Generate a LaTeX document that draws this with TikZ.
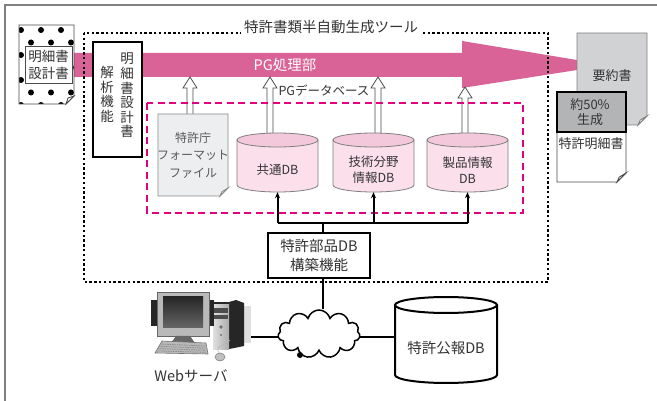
\documentclass[tikz,border=0pt]{standalone}
\usepackage{fontspec}
\setmainfont{Noto Sans CJK JP}
\usetikzlibrary{shapes.symbols,arrows.meta,calc}

\definecolor{txt}{HTML}{333333}
\definecolor{pgpink}{HTML}{D96297}
\definecolor{dbline}{HTML}{E5007F}
\definecolor{cylbody}{HTML}{FBE0EC}
\definecolor{cyltop}{HTML}{F2C8DA}
\definecolor{cylrim}{HTML}{7F7F7F}
\definecolor{docgray}{HTML}{EDEEF0}
\definecolor{sumgray}{HTML}{D1D2D4}
\definecolor{gengray}{HTML}{B3B4B6}
\definecolor{framegray}{HTML}{808080}

% document sheet with a folded lower right corner
\newcommand\docsheet[7]{% x1 y1 x2 y2 fold fill draw
  \draw[fill=#6, draw=#7, line width=0.8pt]
    (#1,#2) -- (#3,#2) -- (#3,#4-#5) -- (#3-#5,#4) -- (#1,#4) -- cycle;
  \draw[fill=white, draw=#7, line width=0.8pt]
    (#3,#4-#5) -- (#3-#5,#4) -- (#3-0.75*#5,#4-0.55*#5) -- cycle;
}

% hollow upward block arrow
\newcommand\hollowup[3]{% x, base y, tip y
  \draw[fill=white, draw=black!70, line width=0.8pt]
    (#1-3,#2) -- (#1-3,#3+11) -- (#1-7,#3+11) -- (#1,#3) --
    (#1+7,#3+11) -- (#1+3,#3+11) -- (#1+3,#2) -- cycle;
}

% database cylinder
\newcommand\dbcyl[9]{% cx top bottom rx ry bodyfill topfill rim width
  \path[fill=#6] (#1-#4,#2+#5) -- (#1-#4,#3-#5)
    arc[start angle=180,end angle=0,x radius=#4,y radius=#5]
    -- (#1+#4,#2+#5)
    arc[start angle=0,end angle=-180,x radius=#4,y radius=#5] -- cycle;
  \draw[draw=#8, line width=#9] (#1-#4,#2+#5) -- (#1-#4,#3-#5)
    arc[start angle=180,end angle=0,x radius=#4,y radius=#5]
    -- (#1+#4,#2+#5);
  \draw[draw=#8, line width=#9, fill=#7] (#1,#2+#5) ellipse[x radius=#4, y radius=#5];
}

\tikzset{
  lbl/.style={inner sep=0pt, text=txt, align=center},
  wire/.style={line width=2pt, draw=black},
  boxed/.style={draw=black, line width=2pt, fill=white, inner sep=0pt, align=center, text=txt},
}

\begin{document}
\begin{tikzpicture}[x=1pt,y=-1pt]
\useasboundingbox (0,0) rectangle (657,401);
\fill[white] (0,0) rectangle (657,401);

% page frame
\draw[framegray, line width=1.6pt] (5,401) -- (5,5) -- (657,5);

% PG processing arrow
\fill[pgpink] (74,53) -- (462,53) -- (462,41) -- (577,60) -- (577,70)
  -- (462,88) -- (462,77) -- (74,77) -- cycle;
\node[lbl, text=white, font=\fontsize{14.5}{16}\selectfont] (pg) at (285,65) {PG処理部};

% hollow arrows feeding the processing unit
\hollowup{190}{120}{77}
\hollowup{270}{140}{77}
\hollowup{378}{140}{77}
\hollowup{465}{140}{87}

% input specification sheet
\begin{scope}
  \clip (19,25) -- (74,25) -- (74,96) -- (66,104) -- (19,104) -- cycle;
  \fill[white] (19,25) rectangle (74,104);
  \foreach \r in {0,...,6}{
    \pgfmathsetmacro\off{mod(\r,2)*10}
    \foreach \c in {0,...,3}{
      \fill ({21+\c*20+\off},{30+\r*12.5}) circle (3);
    }
  }
\end{scope}
\draw[black!70, line width=0.8pt] (19,25) -- (74,25) -- (74,96) -- (66,104) -- (19,104) -- cycle;
\draw[fill=white, draw=black!70, line width=0.8pt] (74,96) -- (66,104) -- (68,98) -- cycle;
\node[draw=black!70, fill=white, line width=0.8pt, minimum width=47pt, minimum height=37pt,
  lbl, font=\fontsize{13.5}{17}\selectfont] (spec) at (48.5,65) {明細書\\設計書};

% tool frame
\draw[line width=2.4pt, dash pattern=on 2.4pt off 2.4pt] (84,33) rectangle (548,282);
\node[lbl, fill=white, inner sep=3pt, font=\fontsize{14.5}{16}\selectfont] (tool) at (331,27) {特許書類半自動生成ツール};

% analysis function (vertical text)
\node[boxed, minimum width=49pt, minimum height=115pt] (parse) at (117.5,99.5) {};
\node[lbl, anchor=north, font=\fontsize{13.5}{14.6}\selectfont] at (127,53) {明\\細\\書\\設\\計\\書};
\node[lbl, anchor=north, font=\fontsize{13.5}{14.6}\selectfont] at (107,66) {解\\析\\機\\能};

% PG database area
\draw[dbline, line width=2pt, dash pattern=on 7pt off 4.5pt] (147,103) rectangle (523,213);
\node[lbl, font=\fontsize{12.5}{14}\selectfont] (pgdb) at (324,91) {PGデータベース};

% patent office format file
\docsheet{158}{114}{228}{196}{8}{docgray}{black!45}
\node[lbl, text=black!65, font=\fontsize{12}{17.5}\selectfont] (fmt) at (193,155) {特許庁\\フォーマット\\ファイル};

% component databases
\dbcyl{277.5}{133}{192}{40.5}{7}{cylbody}{cyltop}{cylrim}{0.8pt}
\dbcyl{373.5}{133}{192}{40.5}{7}{cylbody}{cyltop}{cylrim}{0.8pt}
\dbcyl{467.5}{133}{192}{40.5}{7}{cylbody}{cyltop}{cylrim}{0.8pt}
\node[minimum width=81pt, minimum height=59pt, inner sep=0pt] (c1) at (277.5,162.5) {};
\node[minimum width=81pt, minimum height=59pt, inner sep=0pt] (c2) at (373.5,162.5) {};
\node[minimum width=81pt, minimum height=59pt, inner sep=0pt] (c3) at (467.5,162.5) {};
\node[lbl, font=\fontsize{12.5}{16}\selectfont] at (277.5,170) {共通DB};
\node[lbl, font=\fontsize{12.5}{16}\selectfont] at (373.5,170) {技術分野\\情報DB};
\node[lbl, font=\fontsize{12.5}{16}\selectfont] at (467.5,170) {製品情報\\DB};

% component DB builder and its distribution bus
\node[boxed, minimum width=102pt, minimum height=45pt, font=\fontsize{14.5}{19.5}\selectfont] (pgb) at (319,255.5) {特許部品DB\\構築機能};
\coordinate (bus) at (323,223);
\draw[wire] (bus) -- (bus |- pgb.north);
\draw[wire] (bus -| c1.south) -- (bus -| c3.south);
\foreach \c in {c1,c2,c3}{
  \draw[wire, -{Stealth[length=6pt, width=5pt]}] (bus -| \c.south) -- (\c.south);
}

% network
\node[cloud, cloud puffs=11, aspect=1.7, draw=black, line width=1.5pt, fill=white,
  minimum width=82pt, minimum height=48pt, inner sep=0pt] (net) at (319,334) {};
\fill (300,355) circle (3);
\coordinate (pc) at (243,337);
\draw[wire] (pgb.south -| bus) -- (net.north -| bus);
\draw[wire] (pc) -- (pc -| net.west);

% patent gazette database
\dbcyl{446}{297}{383}{51}{8}{white}{white}{black}{2pt}
\node[minimum width=102pt, minimum height=86pt, inner sep=0pt] (gaz) at (446,340) {};
\node[lbl, font=\fontsize{14.5}{16}\selectfont] at (446,348) {特許公報DB};
\draw[wire] (pc -| net.east) -- (pc -| gaz.west);

% web server workstation
\fill[gray!25] (243,306) rectangle (251,343);
\fill[black!85] (229,302) -- (236,300) -- (244,303) -- (244,346) -- (229,349) -- cycle;
\shade[left color=gray!25, right color=gray!65] (213,304) rectangle (229,349);
\fill[black!85] (213,302) -- (229,302) -- (229,304) -- (213,304) -- cycle;
\fill[black!70] (214,308) rectangle (228,313);
\fill[black!70] (214,315) rectangle (228,319);
\fill[black!55] (221,327) circle (1.8);
\fill[black!55] (221,335) circle (1.2);
\fill[black!85] (151,300) rectangle (160,326);
\fill[black!85] (206,300) rectangle (214,326);
\fill[gray!55] (157,292) rectangle (209,336);
\draw[black!60, line width=0.6pt] (157,292) rectangle (209,336);
\shade[top color=black!85, bottom color=black!60] (163,297) rectangle (203,328);
\fill[black!60] (176,336) -- (190,336) -- (195,343) -- (171,343) -- cycle;
\draw[gray!60, line width=0.5pt] (219,353) .. controls (214,345) and (226,346) .. (230,340);
\fill[gray!55] (162,341) -- (206,343) -- (208,354) -- (155,353) -- cycle;
\draw[black!55, line width=0.6pt] (162,341) -- (206,343) -- (208,354) -- (155,353) -- cycle;
\foreach \k in {0,...,3}{
  \draw[black!45, line width=0.8pt, dash pattern=on 1.6pt off 0.8pt]
    ({160-\k*1.3},{344+\k*2.3}) -- ({205+\k*0.4},{346+\k*2.1});
}
\fill[gray!50] (220,357) ellipse (5 and 4);
\draw[black!50, line width=0.5pt] (220,357) ellipse (5 and 4);
\node[lbl, font=\fontsize{14.5}{16}\selectfont] (web) at (191,376) {Webサーバ};

% outputs: summary and specification
\docsheet{577}{33}{647}{125}{9}{sumgray}{black!50}
\node[lbl, font=\fontsize{13}{15}\selectfont] (summary) at (612,76) {要約書};
\docsheet{557}{92}{626}{182}{9}{white}{black!70}
\draw[fill=gengray, draw=black, line width=1.6pt] (557,92) rectangle (626,132);
\node[lbl, font=\fontsize{13}{15}\selectfont] (gen) at (590,112) {約50\%\\生成};
\node[lbl, font=\fontsize{13}{15}\selectfont] (patspec) at (591,144) {特許明細書};

\end{tikzpicture}
\end{document}
